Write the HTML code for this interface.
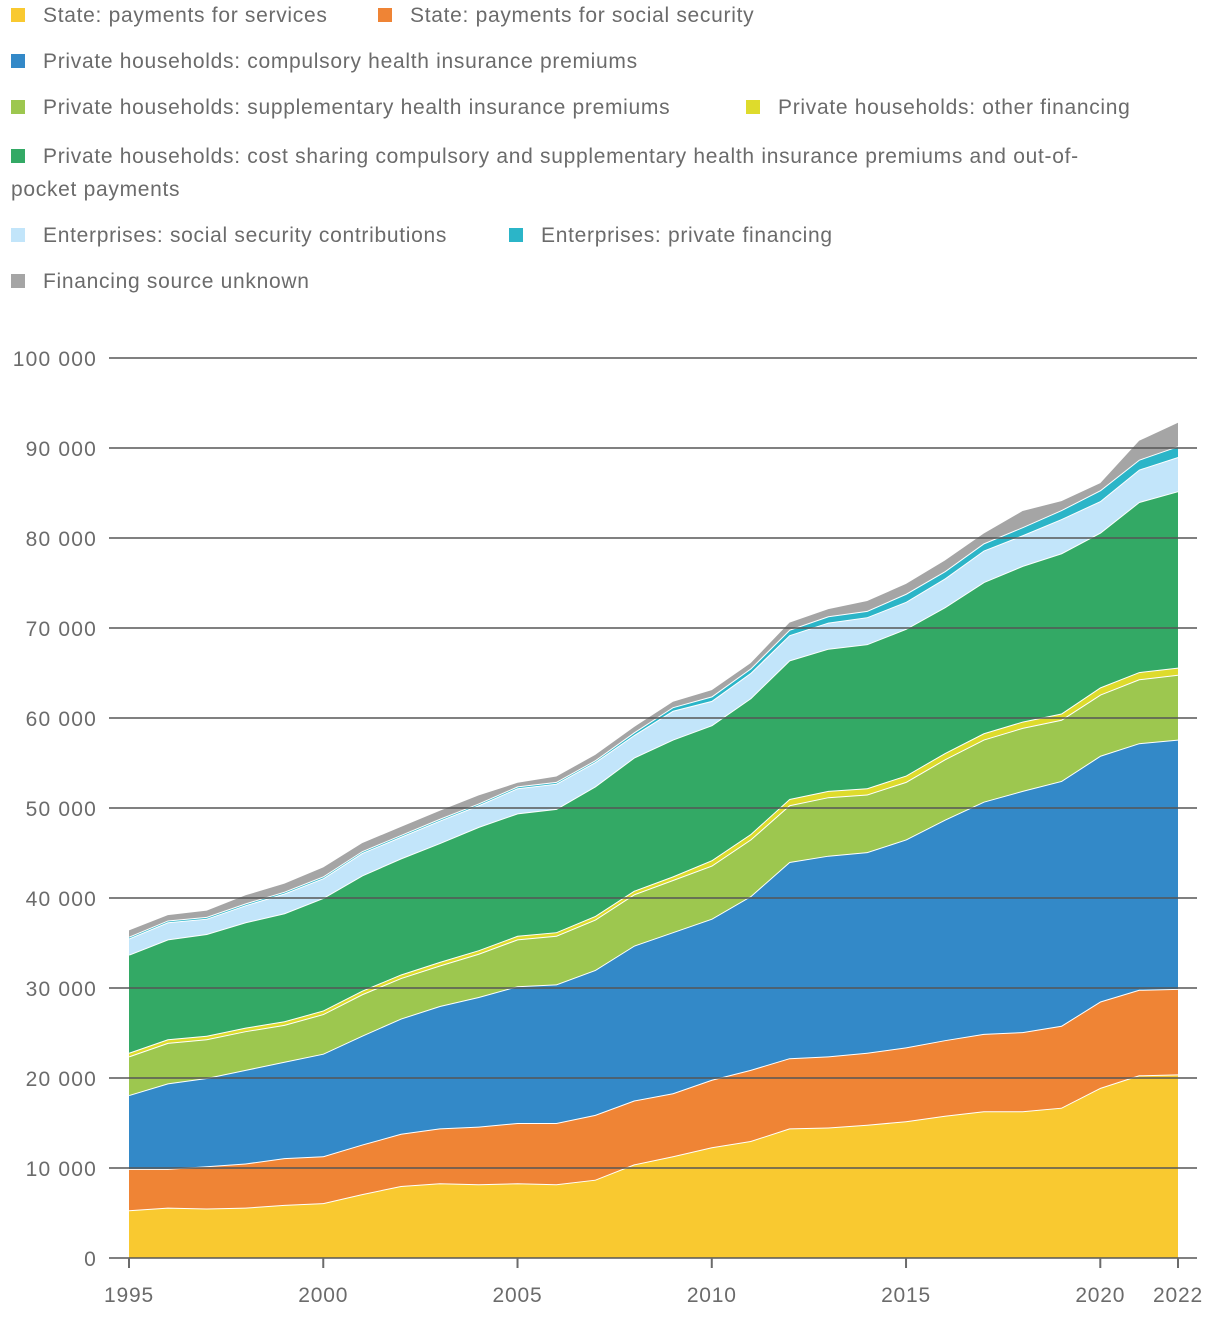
<!DOCTYPE html>
<html><head><meta charset="utf-8">
<style>
body{margin:0;width:1220px;height:1318px;background:#fff;overflow:hidden;font-family:"Liberation Sans",Arial,sans-serif;}
.leg{position:absolute;font-size:21px;color:#6b6b6b;white-space:nowrap;letter-spacing:0.7px;}
.sw{display:inline-block;width:14px;height:14px;margin-right:18px;vertical-align:0px;}
</style></head><body>
<div>
<div class="leg" style="left:11px;top:4px"><span class="sw" style="background:#f9c930"></span>State: payments for services</div>
<div class="leg" style="left:378px;top:4px"><span class="sw" style="background:#ef8435"></span>State: payments for social security</div>
<div class="leg" style="left:11px;top:50px"><span class="sw" style="background:#3389c8"></span>Private households: compulsory health insurance premiums</div>
<div class="leg" style="left:11px;top:96px"><span class="sw" style="background:#9dc74f"></span>Private households: supplementary health insurance premiums</div>
<div class="leg" style="left:746px;top:96px"><span class="sw" style="background:#dedb2c"></span>Private households: other financing</div>
<div class="leg" style="left:11px;top:140px;line-height:33px"><span class="sw" style="background:#33a965"></span>Private households: cost sharing compulsory and supplementary health insurance premiums and out-of-<br>pocket payments</div>
<div class="leg" style="left:11px;top:224px"><span class="sw" style="background:#c2e5fa"></span>Enterprises: social security contributions</div>
<div class="leg" style="left:509px;top:224px"><span class="sw" style="background:#2bb5c8"></span>Enterprises: private financing</div>
<div class="leg" style="left:11px;top:270px"><span class="sw" style="background:#a5a5a5"></span>Financing source unknown</div>
</div>
<svg id="chart" width="1220" height="1318" style="position:absolute;left:0;top:0"></svg>
<script>
const years=[1995,1996,1997,1998,1999,2000,2001,2002,2003,2004,2005,2006,2007,2008,2009,2010,2011,2012,2013,2014,2015,2016,2017,2018,2019,2020,2021,2022];
const stateServices=[5.3,5.6,5.5,5.6,5.9,6.1,7.1,8.0,8.3,8.2,8.3,8.2,8.7,10.4,11.3,12.3,13.0,14.4,14.5,14.8,15.2,15.8,16.3,16.3,16.7,18.9,20.3,20.4];
const stateSocial=[4.6,4.3,4.7,4.9,5.2,5.2,5.5,5.8,6.1,6.4,6.7,6.8,7.2,7.1,7.0,7.5,7.9,7.8,7.9,8.0,8.2,8.4,8.6,8.8,9.1,9.6,9.5,9.5];
const compulsory=[8.2,9.5,9.8,10.4,10.7,11.4,12.1,12.8,13.6,14.4,15.2,15.4,16.1,17.2,17.9,17.9,19.3,21.8,22.3,22.3,23.1,24.5,25.8,26.8,27.2,27.3,27.4,27.7];
const supplementary=[4.3,4.5,4.3,4.3,4.1,4.4,4.6,4.5,4.5,4.8,5.2,5.4,5.6,5.7,5.8,5.9,6.3,6.3,6.5,6.4,6.4,6.7,6.9,7.0,6.8,6.8,7.1,7.2];
const otherFin=[0.4,0.4,0.4,0.4,0.4,0.4,0.4,0.4,0.4,0.4,0.4,0.4,0.4,0.4,0.4,0.6,0.6,0.7,0.7,0.7,0.7,0.7,0.7,0.7,0.7,0.8,0.8,0.8];
const costSharing=[10.9,11.1,11.3,11.7,12.0,12.5,12.8,12.9,13.2,13.7,13.6,13.7,14.4,14.8,15.2,15.0,15.1,15.4,15.8,16.0,16.3,16.2,16.8,17.3,17.8,17.2,18.9,19.6];
const entSocial=[1.8,1.9,1.7,1.9,2.2,2.2,2.5,2.4,2.5,2.4,2.8,2.8,2.7,2.5,3.2,2.7,2.8,2.8,2.9,3.0,3.0,3.2,3.5,3.4,3.8,3.5,3.6,3.8];
const entPrivate=[0.2,0.2,0.2,0.2,0.2,0.2,0.2,0.2,0.2,0.2,0.2,0.2,0.2,0.3,0.4,0.5,0.5,0.6,0.7,0.7,0.9,0.8,0.8,0.9,1.0,1.2,1.1,1.2];
const unknown=[0.7,0.6,0.7,0.9,0.9,1.0,0.9,0.9,0.9,0.9,0.4,0.6,0.6,0.6,0.6,0.7,0.6,0.8,0.8,1.1,1.1,1.2,1.1,1.8,1.0,0.8,2.1,2.6];
const yTicks=[0,10,20,30,40,50,60,70,80,90,100];
const yTickLabels=["0","10 000","20 000","30 000","40 000","50 000","60 000","70 000","80 000","90 000","100 000"];
const xTickYears=[1995,2000,2005,2010,2015,2020,2022];

const series=[
 ["state-services",stateServices,"#f9c930"],["state-social-security",stateSocial,"#ef8435"],
 ["compulsory-premiums",compulsory,"#3389c8"],["supplementary-premiums",supplementary,"#9dc74f"],
 ["other-financing",otherFin,"#dedb2c"],["cost-sharing",costSharing,"#33a965"],
 ["enterprise-social",entSocial,"#c2e5fa"],["enterprise-private",entPrivate,"#2bb5c8"],
 ["unknown-source",unknown,"#a5a5a5"]];
const NS="http://www.w3.org/2000/svg";
const svg=document.getElementById('chart');
const x=y=>129+(y-1995)*(1178-129)/27;
const yS=v=>1258-v*9;
function mk(t,a){const e=document.createElementNS(NS,t);for(const k in a)e.setAttribute(k,a[k]);svg.appendChild(e);return e;}
let base=years.map(()=>0);
series.forEach(([name,vals,col],si)=>{
  const top=base.map((b,i)=>b+vals[i]);
  let d="M"+years.map((yr,i)=>x(yr)+","+yS(top[i])).join("L");
  for(let i=years.length-1;i>=0;i--)d+="L"+x(years[i])+","+yS(base[i]);
  const p=mk('path',{d:d+"Z",fill:col});
  
  
  if(si<series.length-1){
    const l=mk('polyline',{points:years.map((yr,i)=>x(yr)+","+yS(top[i])).join(" "),fill:"none",stroke:"#fff","stroke-width":2});
    
    
  }
  base=top;
});
yTicks.forEach((v,i)=>{
  const g=mk('line',{x1:109,x2:1197,y1:yS(v),y2:yS(v),stroke:"#555","stroke-opacity":0.75,"stroke-width":2});
  
  
  const t=mk('text',{x:97,y:yS(v)+8,"text-anchor":"end","font-size":21,"letter-spacing":1.2,fill:"#6b6b6b","font-family":"Liberation Sans, sans-serif"});
  t.textContent=yTickLabels[i];
  
  
});
xTickYears.forEach(yr=>{
  const tk=mk('line',{x1:x(yr),x2:x(yr),y1:1258,y2:1268,stroke:"#6b6b6b","stroke-width":2});
  
  
  const t=mk('text',{x:x(yr),y:1302,"text-anchor":"middle","font-size":21,"letter-spacing":0.8,fill:"#6b6b6b","font-family":"Liberation Sans, sans-serif"});
  t.textContent=yr;
  
  
});
</script>
</body></html>
